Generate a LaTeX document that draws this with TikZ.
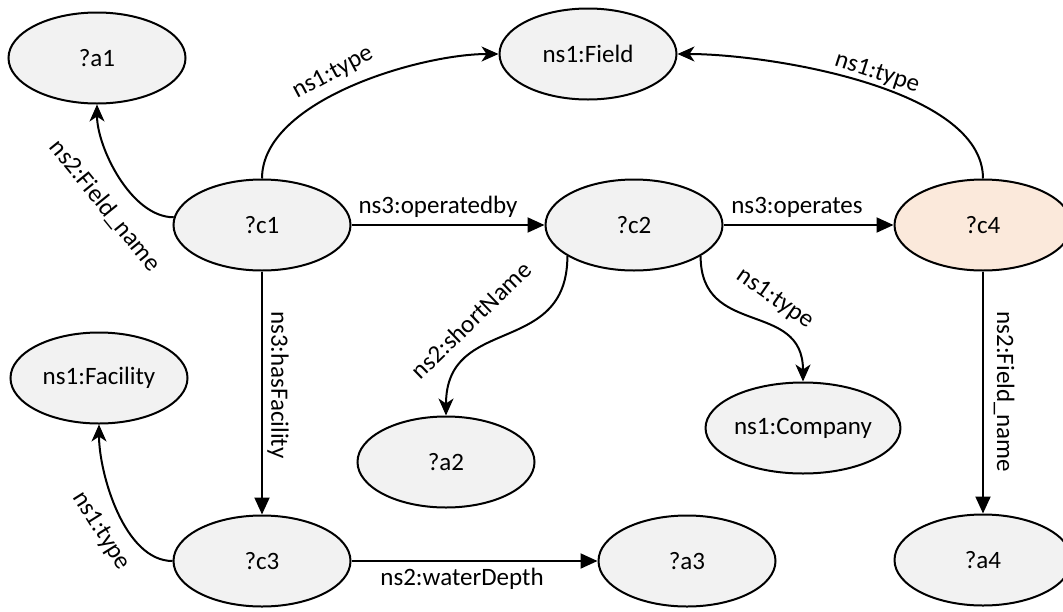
\documentclass[tikz,border=0pt]{standalone}
\usepackage{fontspec}
\setmainfont{Carlito}
\usetikzlibrary{shapes.geometric,arrows.meta}
\definecolor{nodegray}{HTML}{F2F2F2}
\definecolor{peach}{HTML}{FBE9DB}
\begin{document}
\begin{tikzpicture}[x=1pt,y=1pt,
  ent/.style={ellipse, draw, line width=2pt, fill=nodegray, minimum width=177pt, minimum height=91pt, inner sep=0pt, font=\fontsize{25}{29}\selectfont},
  lbl/.style={font=\fontsize{25}{29}\selectfont, inner sep=0pt},
  sarrow/.style={line width=2pt, -{Triangle[length=17pt,width=15pt]}},
  carrow/.style={line width=2pt, -{Stealth[length=17pt,width=15pt,inset=5pt]}}
]
\useasboundingbox (0,-611) rectangle (1063,0);
\clip (0,-611) rectangle (1063,0);

% nodes
\node[ent] (a1) at (97,-58) {?a1};
\node[ent] (field) at (588,-54) {ns1:Field};
\node[ent] (c1) at (262,-225) {?c1};
\node[ent] (c2) at (634,-225) {?c2};
\node[ent, fill=peach] (c4) at (983,-225) {?c4};
\node[ent] (facility) at (99,-378) {ns1:Facility};
\node[ent] (a2) at (446,-462) {?a2};
\node[ent] (company) at (803,-428) {ns1:Company};
\node[ent] (c3) at (262,-561) {?c3};
\node[ent] (a3) at (687,-561) {?a3};
\node[ent] (a4) at (983,-560) {?a4};

% connectors
\draw[carrow] (c1.175) to[out=180,in=-90,looseness=0.8] (a1.south);
\draw[carrow] (c1.north) to[out=90,in=180,looseness=0.75] (field.west);
\draw[carrow] (c4.north) to[out=90,in=0,looseness=0.7] (field.east);
\draw[sarrow] (c1.east) -- (c2.west);
\draw[sarrow] (c2.east) -- (c4.west);
\draw[sarrow] (c1.south) -- (c3.north);
\draw[carrow] (c2.-155) to[out=-90,in=90,looseness=1.3] (a2.north);
\draw[carrow] (c2.-25) to[out=-90,in=90,looseness=1.3] (company.north);
\draw[sarrow] (c4.south) -- (a4.north);
\draw[carrow] (c3.west) to[out=180,in=-90,looseness=0.8] (facility.south);
\draw[sarrow] (c3.east) -- (a3.west);

% labels
\node[lbl, rotate=28] (l1) at (333,-73) {ns1:type};
\node[lbl, rotate=-51] (l2) at (105,-206) {ns2:Field\_name};
\node[lbl] (l3) at (438,-207) {ns3:operatedby};
\node[lbl] (l4) at (797,-207) {ns3:operates};
\node[lbl, rotate=-18] (l5) at (877,-73) {ns1:type};
\node[lbl, rotate=44] (l6) at (471,-320) {ns2:shortName};
\node[lbl, rotate=-90] (l7) at (278,-385) {ns3:hasFacility};
\node[lbl, rotate=-35] (l8) at (775,-299) {ns1:type};
\node[lbl, rotate=-90] (l9) at (1004,-392) {ns2:Field\_name};
\node[lbl, rotate=-58] (l10) at (101,-531) {ns1:type};
\node[lbl] (l11) at (462,-579) {ns2:waterDepth};
\end{tikzpicture}
\end{document}
